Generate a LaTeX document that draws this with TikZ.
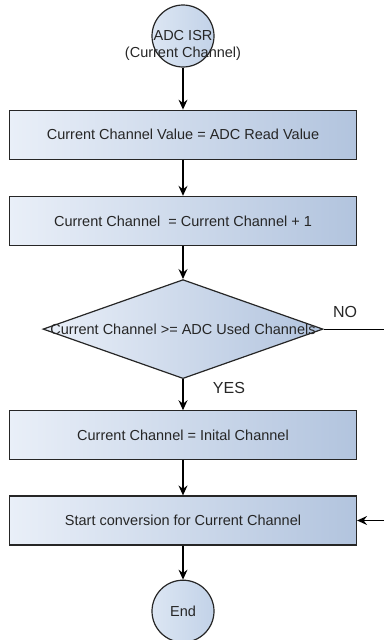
\documentclass[tikz,border=0pt]{standalone}
\usepackage{fontspec}
\setmainfont{Liberation Sans}
\usetikzlibrary{positioning}
\usetikzlibrary{shapes.geometric}
\usetikzlibrary{arrows.meta}

\definecolor{boxleft}{HTML}{E9EFF8}
\definecolor{boxright}{HTML}{B2C4DE}
\definecolor{termleft}{HTML}{DCE6F3}
\definecolor{termright}{HTML}{C2D2E8}
\definecolor{ink}{HTML}{262626}

\begin{document}
\begin{tikzpicture}[
x=1pt, y=1pt,
>={Stealth[length=10pt,width=9pt,inset=3.5pt]},
every node/.style={font=\fontsize{14.5}{17}\selectfont, text=ink},
termnode/.style={circle, draw=ink, line width=1.2pt, left color=termleft, right color=termright, minimum size=62pt, inner sep=0pt},
processnode/.style={rectangle, draw=ink, line width=1.2pt, left color=boxleft, right color=boxright, minimum width=347pt, minimum height=49pt},
decisionnode/.style={diamond, draw=ink, line width=1.2pt, left color=boxleft, right color=boxright, minimum width=280pt, minimum height=99pt, inner sep=0pt},
flowlabel/.style={font=\fontsize{16}{18}\selectfont},
]
\useasboundingbox (0,0) rectangle (384,-640);

%Nodes
\node[termnode]     (start) at (183,-36) {};
\node[align=center] (starttext) at ([yshift=-9pt]start.center) {ADC ISR\\(Current Channel)};
\node[processnode]  (readval)  [below=42pt of start]   {Current Channel Value = ADC Read Value};
\node[processnode]  (nextch)   [below=36pt of readval] {Current Channel\ \ = Current Channel + 1};
\node[decisionnode] (check)    [below=33pt of nextch]  {};
\node               (checktext) at (check.center) {Current Channel >= ADC Used Channels};
\node[processnode]  (resetch)  [below=31pt of check]   {Current Channel = Inital Channel};
\node[processnode]  (startconv)[below=35pt of resetch] {Start conversion for Current Channel};
\node[termnode]     (stop)     [below=34pt of startconv] {End};

\node[flowlabel] (nolabel)  at (345,-312) {NO};
\node[flowlabel] (yeslabel) at (229,-388) {YES};

\coordinate (noout)  at (check.east -| 384,0);
\coordinate (loopin) at (startconv.east -| 384,0);

%Lines
\draw[->, line width=1.2pt] (start.south)     -- (readval.north);
\draw[->, line width=1.2pt] (readval.south)   -- (nextch.north);
\draw[->, line width=1.2pt] (nextch.south)    -- (check.north);
\draw[->, line width=1.2pt] (check.south)     -- (resetch.north);
\draw[->, line width=1.2pt] (resetch.south)   -- (startconv.north);
\draw[->, line width=1.2pt] (startconv.south) -- (stop.north);

\draw[line width=1.2pt] (check.east) -- (noout);
\draw[->, line width=1.2pt] (loopin) -- (startconv.east);
\end{tikzpicture}
\end{document}
